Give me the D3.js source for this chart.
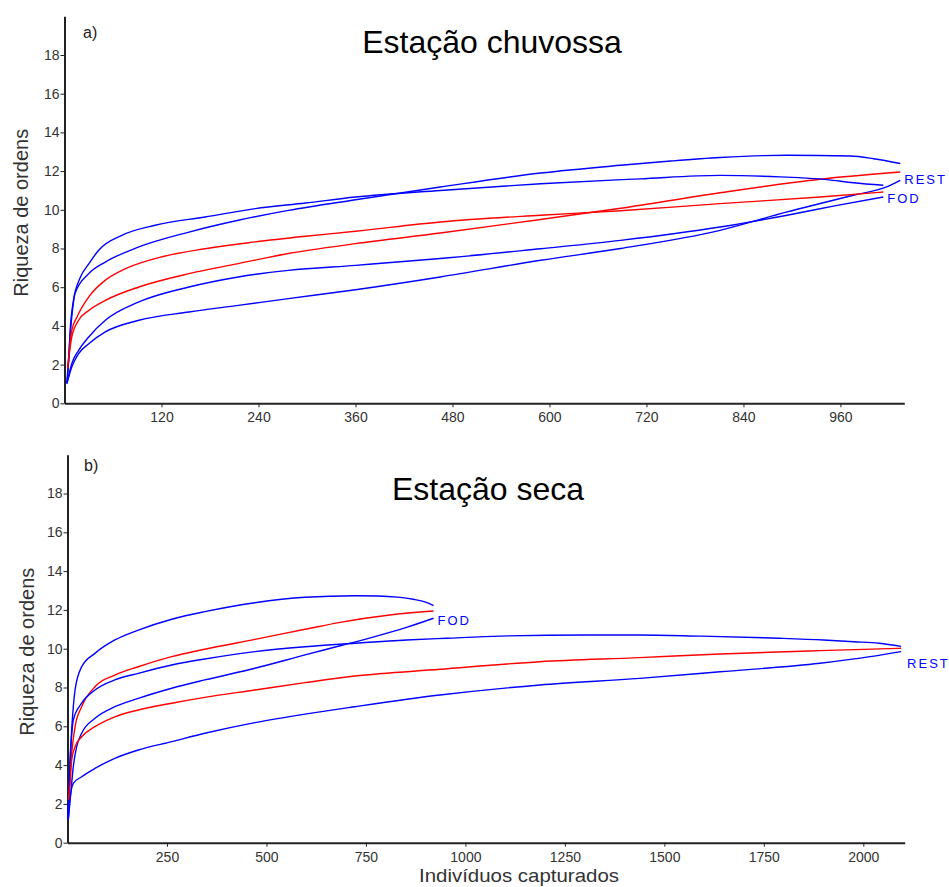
<!DOCTYPE html>
<html><head><meta charset="utf-8">
<script src="https://cdn.jsdelivr.net/npm/d3@7"></script>
<style>
body{margin:0;background:#fff;}
svg{display:block;font-family:Arial,"Liberation Sans",sans-serif;}
</style></head><body>
<svg id="chart" width="949" height="887"></svg>
<script>
// ---------- data ----------
const yTicks = [0,2,4,6,8,10,12,14,16,18];
const aXTicks = [120,240,360,480,600,720,840,960];
const bXTicks = [250,500,750,1000,1250,1500,1750,2000];

// Panel a) Estação chuvossa  [indivíduos, riqueza]
const aFodUpper = [[3,1.03],[5,2.07],[7,3.77],[11,5.3],[19.5,6.5],[30,7.2],[42,7.9],[71,8.68],[112,9.2],[174,9.63],[236,10.06],[298,10.35],[360,10.66],[465,11.0],[589,11.35],[712,11.6],[811,11.78],[885,11.7],[943,11.56],[976,11.4],[1013,11.27]];
const aFodObs   = [[4,1.8],[9,3.77],[15.5,4.46],[30,5.5],[50.5,6.36],[71,6.87],[112,7.48],[174,7.99],[236,8.34],[298,8.63],[360,8.89],[465,9.37],[589,9.72],[688,9.95],[811,10.32],[935,10.66],[1013,10.92]];
const aFodLower = [[3,1.03],[9,2.05],[17.5,2.74],[30,3.43],[50.5,4.29],[92,5.24],[154,6.01],[215,6.53],[277,6.87],[360,7.13],[465,7.48],[589,7.99],[688,8.42],[811,9.11],[894,9.72],[956,10.23],[1013,10.66]];
const aRestUpper = [[3,1.03],[9,4.46],[13,5.67],[30,6.7],[50.5,7.3],[92,8.08],[154,8.85],[215,9.46],[277,9.97],[360,10.52],[465,11.18],[589,11.9],[688,12.3],[750,12.52],[811,12.7],[894,12.82],[972,12.78],[1001,12.64],[1034,12.39]];
const aRestObs   = [[4,1.8],[9,3.43],[17.5,4.29],[30,4.8],[50.5,5.32],[92,6.01],[154,6.7],[215,7.22],[277,7.74],[360,8.25],[465,8.8],[589,9.5],[688,10.08],[811,10.88],[935,11.58],[1034,11.95]];
const aRestLower = [[3,1.03],[9,1.88],[17.5,2.57],[30,3.08],[50.5,3.69],[92,4.29],[154,4.72],[215,5.06],[277,5.41],[360,5.87],[465,6.53],[589,7.39],[688,8.0],[811,8.94],[894,9.89],[976,10.75],[1017,11.18],[1034,11.52]];

// Panel b) Estação seca
const bFodUpper = [[1,1.2],[6,4.09],[10.5,5.81],[19,7.87],[35.6,9.07],[69,9.76],[119,10.45],[178,10.96],[262,11.52],[345,11.91],[471,12.37],[597,12.65],[722,12.73],[780,12.72],[830,12.66],[869,12.55],[900,12.4],[920,12.22]];
const bFodObs   = [[3,2.4],[10.5,4.61],[19,5.98],[35.6,7.01],[69,8.04],[119,8.64],[178,9.07],[262,9.59],[345,9.97],[471,10.48],[597,11.0],[685,11.36],[810,11.74],[920,11.94]];
const bFodLower = [[2,1.2],[8,2.5],[14.6,3.92],[23,4.95],[35.6,5.64],[69,6.41],[119,7.01],[178,7.44],[262,7.96],[345,8.39],[471,8.99],[597,9.68],[685,10.15],[768,10.6],[852,11.1],[920,11.57]];
const bRestUpper = [[1,1.2],[6,3.9],[14.6,6.32],[35.6,7.19],[69,7.87],[119,8.39],[178,8.73],[262,9.16],[345,9.47],[471,9.85],[597,10.1],[722,10.28],[852,10.45],[953,10.54],[1087,10.65],[1305,10.71],[1438,10.71],[1589,10.65],[1790,10.54],[1900,10.45],[1976,10.36],[2040,10.28],[2095,10.12]];
const bRestObs   = [[2,2.2],[6,2.89],[10.5,4.26],[19,4.95],[35.6,5.46],[69,5.98],[119,6.49],[178,6.84],[262,7.19],[345,7.49],[471,7.87],[597,8.25],[722,8.59],[936,8.94],[1187,9.33],[1438,9.54],[1640,9.73],[1891,9.9],[2095,10.02]];
const bRestLower = [[2,1.2],[6,2.2],[14.6,3.06],[35.6,3.4],[69,3.83],[119,4.35],[178,4.78],[262,5.21],[345,5.64],[471,6.19],[597,6.63],[722,7.01],[936,7.61],[1187,8.13],[1438,8.47],[1640,8.81],[1891,9.25],[2017,9.59],[2095,9.85]];

const panels = [
  {tag:"a)", title:"Estação chuvossa", xMax:1039, xTicks:aXTicks,
   xr:[64.5,904.3], yr:[403.3,16.3], titleX:492, titleY:53, tagX:83, tagY:38, ylabX:28,
   groups:[
     {name:"REST", upper:aRestUpper, obs:aRestObs, lower:aRestLower, dx:4, dy:12},
     {name:"FOD",  upper:aFodUpper,  obs:aFodObs,  lower:aFodLower,  dx:4, dy:11}
   ]},
  {tag:"b)", title:"Estação seca", xMax:2104, xTicks:bXTicks,
   xr:[67.5,904.7], yr:[842.7,454.7], titleX:488, titleY:500, tagX:84, tagY:471, ylabX:34,
   xlabel:"Indivíduos capturados",
   groups:[
     {name:"FOD",  upper:bFodUpper,  obs:bFodObs,  lower:bFodLower,  dx:4, dy:14},
     {name:"REST", upper:bRestUpper, obs:bRestObs, lower:bRestLower, dx:6, dy:20}
   ]}
];

const svg = d3.select("#chart");
const BLUE = "#0000ff", RED = "#ff0000", AX = "#222";

panels.forEach(p => {
  const x = d3.scaleLinear().domain([0, p.xMax]).range(p.xr);
  const y = d3.scaleLinear().domain([0, 20]).range(p.yr);
  const g = svg.append("g");

  // axes
  const ya = g.append("g").attr("transform", `translate(${p.xr[0]},0)`)
    .call(d3.axisLeft(y).tickValues(yTicks).tickFormat(d3.format("d")).tickSize(4).tickSizeOuter(0).tickPadding(1));
  const xa = g.append("g").attr("transform", `translate(0,${p.yr[0]})`)
    .call(d3.axisBottom(x).tickValues(p.xTicks).tickFormat(d3.format("d")).tickSize(4).tickSizeOuter(0).tickPadding(5));
  [ya, xa].forEach(a => {
    a.select(".domain").attr("stroke", AX).attr("stroke-width", 2);
    a.selectAll(".tick line").attr("stroke", AX).attr("stroke-width", 1);
    a.selectAll(".tick text").attr("fill", "#333").style("font-size", "14px")
      .style("font-family", "Arial, 'Liberation Sans', sans-serif");
  });

  const line = d3.line().x(d => x(d[0])).y(d => y(d[1])).curve(d3.curveMonotoneX);
  p.groups.forEach(gr => {
    [[gr.upper, BLUE], [gr.lower, BLUE], [gr.obs, RED]].forEach(([data, col]) => {
      g.append("path").datum(data).attr("d", line)
        .attr("fill", "none").attr("stroke", col).attr("stroke-width", 1.4);
    });
    const last = gr.obs[gr.obs.length - 1];
    g.append("text").attr("x", x(last[0]) + gr.dx).attr("y", y(last[1]) + gr.dy)
      .attr("fill", BLUE).style("font-size", "13px").style("letter-spacing", "2px")
      .text(gr.name);
  });

  g.append("text").attr("x", p.titleX).attr("y", p.titleY).attr("text-anchor", "middle")
    .attr("fill", "#000").style("font-size", "32px").text(p.title);
  g.append("text").attr("x", p.tagX).attr("y", p.tagY)
    .attr("fill", "#222").style("font-size", "16px").text(p.tag);
  const yc = (p.yr[0] + p.yr[1]) / 2 + 3;
  g.append("text").attr("transform", `translate(${p.ylabX},${yc}) rotate(-90)`)
    .attr("text-anchor", "middle").attr("fill", "#333").style("font-size", "20px")
    .text("Riqueza de ordens");
  if (p.xlabel) {
    g.append("text").attr("x", 519).attr("y", 882).attr("text-anchor", "middle")
      .attr("fill", "#333").style("font-size", "19px")
      .attr("textLength", 200).attr("lengthAdjust", "spacingAndGlyphs")
      .text(p.xlabel);
  }
});
</script>
</body></html>
